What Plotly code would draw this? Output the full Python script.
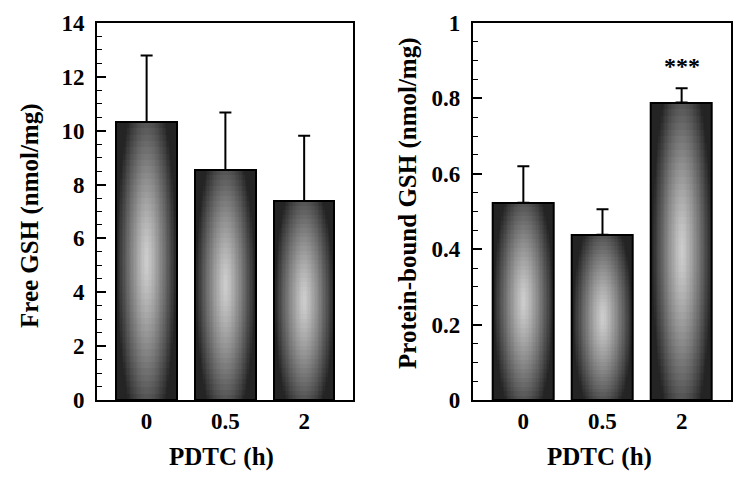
import math
import plotly.graph_objects as go

# ---- data ----
categories = ["0", "0.5", "2"]
free_gsh = [10.32, 8.54, 7.39]
free_gsh_err = [2.47, 2.14, 2.42]
bound_gsh = [0.523, 0.438, 0.789]
bound_gsh_err = [0.097, 0.068, 0.038]
signif_labels = ["", "", "***"]

FONT = "Liberation Serif"
BAR_W = 0.77
N_LAYERS = 22      # horizontal shading steps
N_SLICES = 44      # vertical shading steps
ASPECT = 1.3       # vertical stretch of the radial highlight
DARK = (36, 36, 36)
LIGHT = (208, 208, 208)

# page is offset by the 8px default body margin
W, H = 742, 472
OFF = 8


def px_x(p):
    return (p - OFF) / W


def px_y(p):
    return 1 - (p - OFF) / H


fig = go.Figure()


def shade(rho):
    f = min(1.0, rho) ** 1.2
    c = [int(round(LIGHT[i] + (DARK[i] - LIGHT[i]) * f)) for i in range(3)]
    return "rgb(%d,%d,%d)" % tuple(c)


def add_panel(values, errors, xa, ya):
    xs, bases, heights, widths, colors = [], [], [], [], []
    for cat, v in zip(categories, values):
        dh = v / N_SLICES
        for j in range(N_SLICES):
            yc = ((j + 0.5) / N_SLICES - 0.5) * 2.0   # -1..1
            for k in range(N_LAYERS):
                r = 1.0 - k / N_LAYERS
                rho = math.sqrt(r * r + (yc / ASPECT) ** 2)
                xs.append(cat)
                bases.append(j * dh)
                heights.append(dh * 1.04 if j < N_SLICES - 1 else dh)
                widths.append(BAR_W * r)
                colors.append(shade(rho))
    fig.add_trace(go.Bar(
        x=xs, y=heights, base=bases, width=widths,
        marker=dict(color=colors, line=dict(width=0)),
        xaxis=xa, yaxis=ya, showlegend=False, hoverinfo="skip",
    ))
    # outline + error bars
    fig.add_trace(go.Bar(
        x=categories, y=values, width=BAR_W,
        marker=dict(color="rgba(0,0,0,0)", line=dict(color="black", width=2)),
        error_y=dict(type="data", array=errors, arrayminus=[0] * len(errors),
                     symmetric=False, color="black", thickness=2, width=6),
        xaxis=xa, yaxis=ya, showlegend=False,
    ))


add_panel(free_gsh, free_gsh_err, "x", "y")
add_panel(bound_gsh, bound_gsh_err, "x2", "y2")

xcommon = dict(type="category", showline=True, linecolor="black", linewidth=1.6,
               mirror=True, ticks="", showgrid=False, zeroline=False, automargin=False,
               tickfont=dict(family=FONT, size=23, color="black", weight="bold"),
               ticklabelstandoff=0)
ycommon = dict(showline=True, linecolor="black", linewidth=1.6, mirror=True,
               ticks="inside", ticklen=9, tickwidth=1.5, tickcolor="black",
               showgrid=False, zeroline=False, automargin=False,
               tickfont=dict(family=FONT, size=23, color="black", weight="bold"),
               ticklabelstandoff=6)

ydom = [px_y(400), px_y(23)]
fig.update_layout(
    width=W, height=H,
    margin=dict(l=0, r=0, t=0, b=0),
    paper_bgcolor="white", plot_bgcolor="white",
    barmode="overlay", bargap=0,
    xaxis=dict(domain=[px_x(97), px_x(353)], range=[-0.63, 2.62], anchor="y", **xcommon),
    yaxis=dict(domain=ydom, range=[0, 14], dtick=2, anchor="x",
               minor=dict(dtick=0.5, ticks="inside", ticklen=5, tickwidth=1.2,
                          tickcolor="black", showgrid=False),
               **ycommon),
    xaxis2=dict(domain=[px_x(472.7), px_x(730.7)], range=[-0.64, 2.62], anchor="y2",
                **xcommon),
    yaxis2=dict(domain=ydom, range=[0, 1], anchor="x2",
                tickvals=[0, 0.2, 0.4, 0.6, 0.8, 1],
                ticktext=["0", "0.2", "0.4", "0.6", "0.8", "1"],
                minor=dict(dtick=0.05, ticks="inside", ticklen=5, tickwidth=1.2,
                           tickcolor="black", showgrid=False),
                **ycommon),
    font=dict(family=FONT, color="black"),
)

title_font = dict(family=FONT, size=25, color="black", weight="bold")
ann = [
    dict(text="PDTC (h)", x=px_x(221), y=px_y(457), xref="paper", yref="paper",
         showarrow=False, font=title_font, xanchor="center", yanchor="middle"),
    dict(text="PDTC (h)", x=px_x(599), y=px_y(457), xref="paper", yref="paper",
         showarrow=False, font=title_font, xanchor="center", yanchor="middle"),
    dict(text="Free GSH (nmol/mg)", x=px_x(30), y=px_y(216), xref="paper", yref="paper",
         showarrow=False, font=title_font, textangle=-90, xanchor="center", yanchor="middle"),
    dict(text="Protein-bound GSH (nmol/mg)", x=px_x(408), y=px_y(203), xref="paper",
         yref="paper", showarrow=False, font=title_font, textangle=-90,
         xanchor="center", yanchor="middle"),
]
for cat, v, e, lab in zip(categories, bound_gsh, bound_gsh_err, signif_labels):
    if lab:
        ann.append(dict(text=lab, x=cat, y=v + e + 0.06, xref="x2", yref="y2",
                        showarrow=False, font=dict(family=FONT, size=24, color="black",
                                                   weight="bold"),
                        xanchor="center", yanchor="middle"))
fig.update_layout(annotations=ann)

fig.write_html("out.html")
